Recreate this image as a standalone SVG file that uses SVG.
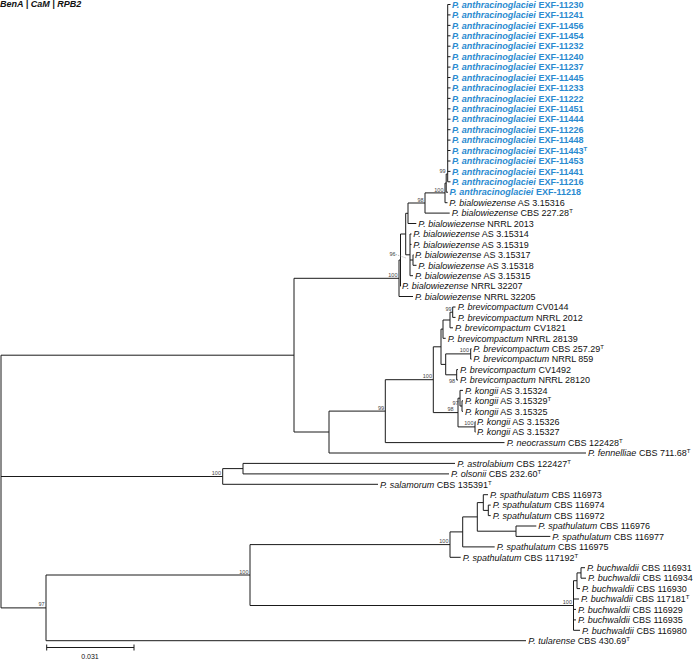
<svg xmlns="http://www.w3.org/2000/svg" width="695" height="659" viewBox="0 0 695 659">
<style>
text{font-family:"Liberation Sans",Arial,sans-serif}
.t{font-size:9px;fill:#111}
.b{fill:#2a8ad0;font-weight:bold}
.i{font-style:italic}
.s{font-size:6px}
.bs{font-size:5.5px;fill:#444;text-anchor:end}
.title{font-size:9px;font-weight:bold;font-style:italic;fill:#111}
.c path{fill:none;stroke:#1a1a1a;stroke-width:1}
.c path.lead{stroke:#777;stroke-width:0.6;stroke-dasharray:1 1}
</style>
<rect width="695" height="659" fill="#fff"/>
<text class="title" x="0" y="7">BenA | CaM | RPB2</text>
<g id="connectors" class="c">
<path d="M447.7 4.5V181.8M447.7 4.5H450.5M447.7 14.9H450.5M447.7 25.4H450.5M447.7 35.8H450.5M447.7 46.2H450.5M447.7 56.7H450.5M447.7 67.1H450.5M447.7 77.5H450.5M447.7 87.9H450.5M447.7 98.4H450.5M447.7 108.8H450.5M447.7 119.2H450.5M447.7 129.7H450.5M447.7 140.1H450.5M447.7 150.5H450.5M447.7 161H450.5M447.7 171.4H450.5M447.7 181.8H450.5"/>
<path d="M446.2 174V192.2M446.2 174H447.7M446.2 192.2H448"/>
<path d="M445 183.1V202.7M445 183.1H446.2M445 202.7H447.5"/>
<path d="M425 192.9V213.1M425 192.9H445M425 213.1H449.7"/>
<path d="M408 203V223.5M408 203H425M408 223.5H416.3"/>
<path d="M413 254.8V265.3M413 254.8H413.5M413 265.3H416.5"/>
<path d="M410 234V275.7M410 234H411.5M410 244.4H411.5M410 260H413M410 275.7H413"/>
<path d="M405.7 213.3V254.8M405.7 213.3H408M405.7 254.8H410"/>
<path d="M400.5 234V286.1M400.5 234H405.7M400.5 286.1H401"/>
<path d="M399 260V296.5M399 260H400.5M399 296.5H413"/>
<path d="M452.7 307V317.4M452.7 307H455.5M452.7 317.4H455.5"/>
<path d="M450 312.2V327.8M450 312.2H452.7M450 327.8H453"/>
<path d="M443 320V338.3M443 320H450M443 338.3H445.7"/>
<path d="M470.7 348.7V359.1M470.7 348.7H471.5M470.7 359.1H471.5"/>
<path d="M456.7 369.6V380M456.7 369.6H458M456.7 380H458"/>
<path d="M445.7 353.9V374.8M445.7 353.9H470.7M445.7 374.8H456.7"/>
<path d="M441 329.1V364.4M441 329.1H443M441 364.4H445.7"/>
<path d="M462 400.8V411.3M462 400.8H463M462 411.3H463"/>
<path d="M460 390.4V406M460 390.4H463M460 406H462"/>
<path d="M475 421.7V432.1M475 421.7H475.5M475 432.1H475.5"/>
<path d="M458 398.2V426.9M458 398.2H460M458 426.9H475"/>
<path d="M433.3 346.8V412.6M433.3 346.8H441M433.3 412.6H458"/>
<path d="M385.3 379.7V442.6M385.3 379.7H433.3M385.3 442.6H504.5"/>
<path d="M329 411.1V453M329 411.1H385.3M329 453H586"/>
<path d="M294 278.3V432M294 278.3H399M294 432H329"/>
<path d="M243 463.4V473.9M243 463.4H455M243 473.9H449"/>
<path d="M222.7 468.6V484.3M222.7 468.6H243M222.7 484.3H378"/>
<path d="M488.3 505.1V515.6M488.3 505.1H490.7M488.3 515.6H490.7"/>
<path d="M483.3 494.7V510.4M483.3 494.7H488M483.3 510.4H488.3"/>
<path d="M516 526V536.4M516 526H536.3M516 536.4H550.3"/>
<path d="M477.3 502.6V531.2M477.3 502.6H483.3M477.3 531.2H516"/>
<path d="M462.7 516.9V546.9M462.7 516.9H477.3M462.7 546.9H494.7"/>
<path d="M450 531.9V557.3M450 531.9H462.7M450 557.3H460.7"/>
<path d="M581 567.7V578.2M581 567.7H585M581 578.2H586"/>
<path d="M577 572.9V588.6M577 572.9H581M577 588.6H580"/>
<path d="M573.5 580.7V630.3M573.5 580.7H577M573.5 599H579M573.5 609.4H576M573.5 619.9H576M573.5 630.3H580"/>
<path d="M250 544.6V605.5M250 544.6H450M250 605.5H573.5"/>
<path d="M46 575V640.7M46 575H250M46 640.7H526"/>
<path d="M1 355.2V607.9M1 355.2H294M1 476.5H222.7M1 607.9H46"/>
<path d="M46.7 647.5H134M46.7 644.5V650.5M134 644.5V650.5"/>
<path class="lead" d="M396 254.5L406 258"/>
</g>
<g id="support">
<text class="bs" x="445.5" y="172.5">99</text>
<text class="bs" x="443.5" y="191.5">100</text>
<text class="bs" x="423.5" y="201.5">98</text>
<text class="bs" x="395.5" y="256">96</text>
<text class="bs" x="397.5" y="276.8">100</text>
<text class="bs" x="451.5" y="310.7">99</text>
<text class="bs" x="469" y="352.4">100</text>
<text class="bs" x="455" y="382.5">98</text>
<text class="bs" x="458.5" y="404.5">97</text>
<text class="bs" x="453.5" y="411.1">98</text>
<text class="bs" x="473.5" y="425.4">100</text>
<text class="bs" x="432" y="378.2">100</text>
<text class="bs" x="384" y="409.6">99</text>
<text class="bs" x="221" y="475">100</text>
<text class="bs" x="448.5" y="543">100</text>
<text class="bs" x="572" y="604">100</text>
<text class="bs" x="248.5" y="573.5">100</text>
<text class="bs" x="44.5" y="606.4">97</text>
</g>
<g id="scale"><text x="90" y="659" font-size="7" fill="#111" text-anchor="middle">0.031</text></g>
<g id="t0"><text class="t b" x="452" y="7.7"><tspan class="i">P. anthracinoglaciei</tspan> EXF-11230</text></g>
<g id="t1"><text class="t b" x="452" y="18.1"><tspan class="i">P. anthracinoglaciei</tspan> EXF-11241</text></g>
<g id="t2"><text class="t b" x="452" y="28.6"><tspan class="i">P. anthracinoglaciei</tspan> EXF-11456</text></g>
<g id="t3"><text class="t b" x="452" y="39"><tspan class="i">P. anthracinoglaciei</tspan> EXF-11454</text></g>
<g id="t4"><text class="t b" x="452" y="49.4"><tspan class="i">P. anthracinoglaciei</tspan> EXF-11232</text></g>
<g id="t5"><text class="t b" x="452" y="59.9"><tspan class="i">P. anthracinoglaciei</tspan> EXF-11240</text></g>
<g id="t6"><text class="t b" x="452" y="70.3"><tspan class="i">P. anthracinoglaciei</tspan> EXF-11237</text></g>
<g id="t7"><text class="t b" x="452" y="80.7"><tspan class="i">P. anthracinoglaciei</tspan> EXF-11445</text></g>
<g id="t8"><text class="t b" x="452" y="91.1"><tspan class="i">P. anthracinoglaciei</tspan> EXF-11233</text></g>
<g id="t9"><text class="t b" x="452" y="101.6"><tspan class="i">P. anthracinoglaciei</tspan> EXF-11222</text></g>
<g id="t10"><text class="t b" x="452" y="112"><tspan class="i">P. anthracinoglaciei</tspan> EXF-11451</text></g>
<g id="t11"><text class="t b" x="452" y="122.4"><tspan class="i">P. anthracinoglaciei</tspan> EXF-11444</text></g>
<g id="t12"><text class="t b" x="452" y="132.9"><tspan class="i">P. anthracinoglaciei</tspan> EXF-11226</text></g>
<g id="t13"><text class="t b" x="452" y="143.3"><tspan class="i">P. anthracinoglaciei</tspan> EXF-11448</text></g>
<g id="t14"><text class="t b" x="452" y="153.7"><tspan class="i">P. anthracinoglaciei</tspan> EXF-11443<tspan class="s" dy="-3">T</tspan></text></g>
<g id="t15"><text class="t b" x="452" y="164.2"><tspan class="i">P. anthracinoglaciei</tspan> EXF-11453</text></g>
<g id="t16"><text class="t b" x="452" y="174.6"><tspan class="i">P. anthracinoglaciei</tspan> EXF-11441</text></g>
<g id="t17"><text class="t b" x="452" y="185"><tspan class="i">P. anthracinoglaciei</tspan> EXF-11216</text></g>
<g id="t18"><text class="t b" x="449.5" y="195.4"><tspan class="i">P. anthracinoglaciei</tspan> EXF-11218</text></g>
<g id="t19"><text class="t" x="449.3" y="205.9"><tspan class="i">P. bialowiezense</tspan> AS 3.15316</text></g>
<g id="t20"><text class="t" x="451.7" y="216.3"><tspan class="i">P. bialowiezense</tspan> CBS 227.28<tspan class="s" dy="-3">T</tspan></text></g>
<g id="t21"><text class="t" x="418.3" y="226.7"><tspan class="i">P. bialowiezense</tspan> NRRL 2013</text></g>
<g id="t22"><text class="t" x="413.3" y="237.2"><tspan class="i">P. bialowiezense</tspan> AS 3.15314</text></g>
<g id="t23"><text class="t" x="413.3" y="247.6"><tspan class="i">P. bialowiezense</tspan> AS 3.15319</text></g>
<g id="t24"><text class="t" x="415" y="258"><tspan class="i">P. bialowiezense</tspan> AS 3.15317</text></g>
<g id="t25"><text class="t" x="418.3" y="268.5"><tspan class="i">P. bialowiezense</tspan> AS 3.15318</text></g>
<g id="t26"><text class="t" x="415" y="278.9"><tspan class="i">P. bialowiezense</tspan> AS 3.15315</text></g>
<g id="t27"><text class="t" x="402" y="289.3"><tspan class="i">P. bialowiezense</tspan> NRRL 32207</text></g>
<g id="t28"><text class="t" x="415" y="299.7"><tspan class="i">P. bialowiezense</tspan> NRRL 32205</text></g>
<g id="t29"><text class="t" x="457.7" y="310.2"><tspan class="i">P. brevicompactum</tspan> CV0144</text></g>
<g id="t30"><text class="t" x="457.7" y="320.6"><tspan class="i">P. brevicompactum</tspan> NRRL 2012</text></g>
<g id="t31"><text class="t" x="455" y="331"><tspan class="i">P. brevicompactum</tspan> CV1821</text></g>
<g id="t32"><text class="t" x="447.7" y="341.5"><tspan class="i">P. brevicompactum</tspan> NRRL 28139</text></g>
<g id="t33"><text class="t" x="473.3" y="351.9"><tspan class="i">P. brevicompactum</tspan> CBS 257.29<tspan class="s" dy="-3">T</tspan></text></g>
<g id="t34"><text class="t" x="473.3" y="362.3"><tspan class="i">P. brevicompactum</tspan> NRRL 859</text></g>
<g id="t35"><text class="t" x="460" y="372.8"><tspan class="i">P. brevicompactum</tspan> CV1492</text></g>
<g id="t36"><text class="t" x="460" y="383.2"><tspan class="i">P. brevicompactum</tspan> NRRL 28120</text></g>
<g id="t37"><text class="t" x="465" y="393.6"><tspan class="i">P. kongii</tspan> AS 3.15324</text></g>
<g id="t38"><text class="t" x="465" y="404"><tspan class="i">P. kongii</tspan> AS 3.15329<tspan class="s" dy="-3">T</tspan></text></g>
<g id="t39"><text class="t" x="465" y="414.5"><tspan class="i">P. kongii</tspan> AS 3.15325</text></g>
<g id="t40"><text class="t" x="477" y="424.9"><tspan class="i">P. kongii</tspan> AS 3.15326</text></g>
<g id="t41"><text class="t" x="477" y="435.3"><tspan class="i">P. kongii</tspan> AS 3.15327</text></g>
<g id="t42"><text class="t" x="506.7" y="445.8"><tspan class="i">P. neocrassum</tspan> CBS 122428<tspan class="s" dy="-3">T</tspan></text></g>
<g id="t43"><text class="t" x="588" y="456.2"><tspan class="i">P. fennelliae</tspan> CBS 711.68<tspan class="s" dy="-3">T</tspan></text></g>
<g id="t44"><text class="t" x="457.3" y="466.6"><tspan class="i">P. astrolabium</tspan> CBS 122427<tspan class="s" dy="-3">T</tspan></text></g>
<g id="t45"><text class="t" x="451" y="477.1"><tspan class="i">P. olsonii</tspan> CBS 232.60<tspan class="s" dy="-3">T</tspan></text></g>
<g id="t46"><text class="t" x="380" y="487.5"><tspan class="i">P. salamorum</tspan> CBS 135391<tspan class="s" dy="-3">T</tspan></text></g>
<g id="t47"><text class="t" x="490" y="497.9"><tspan class="i">P. spathulatum</tspan> CBS 116973</text></g>
<g id="t48"><text class="t" x="492.7" y="508.3"><tspan class="i">P. spathulatum</tspan> CBS 116974</text></g>
<g id="t49"><text class="t" x="492.7" y="518.8"><tspan class="i">P. spathulatum</tspan> CBS 116972</text></g>
<g id="t50"><text class="t" x="538.3" y="529.2"><tspan class="i">P. spathulatum</tspan> CBS 116976</text></g>
<g id="t51"><text class="t" x="552.3" y="539.6"><tspan class="i">P. spathulatum</tspan> CBS 116977</text></g>
<g id="t52"><text class="t" x="496.7" y="550.1"><tspan class="i">P. spathulatum</tspan> CBS 116975</text></g>
<g id="t53"><text class="t" x="462.7" y="560.5"><tspan class="i">P. spathulatum</tspan> CBS 117192<tspan class="s" dy="-3">T</tspan></text></g>
<g id="t54"><text class="t" x="587" y="570.9"><tspan class="i">P. buchwaldii</tspan> CBS 116931</text></g>
<g id="t55"><text class="t" x="588" y="581.4"><tspan class="i">P. buchwaldii</tspan> CBS 116934</text></g>
<g id="t56"><text class="t" x="582" y="591.8"><tspan class="i">P. buchwaldii</tspan> CBS 116930</text></g>
<g id="t57"><text class="t" x="581" y="602.2"><tspan class="i">P. buchwaldii</tspan> CBS 117181<tspan class="s" dy="-3">T</tspan></text></g>
<g id="t58"><text class="t" x="578" y="612.6"><tspan class="i">P. buchwaldii</tspan> CBS 116929</text></g>
<g id="t59"><text class="t" x="578" y="623.1"><tspan class="i">P. buchwaldii</tspan> CBS 116935</text></g>
<g id="t60"><text class="t" x="582" y="633.5"><tspan class="i">P. buchwaldii</tspan> CBS 116980</text></g>
<g id="t61"><text class="t" x="528.3" y="643.9"><tspan class="i">P. tularense</tspan> CBS 430.69<tspan class="s" dy="-3">T</tspan></text></g>
</svg>
